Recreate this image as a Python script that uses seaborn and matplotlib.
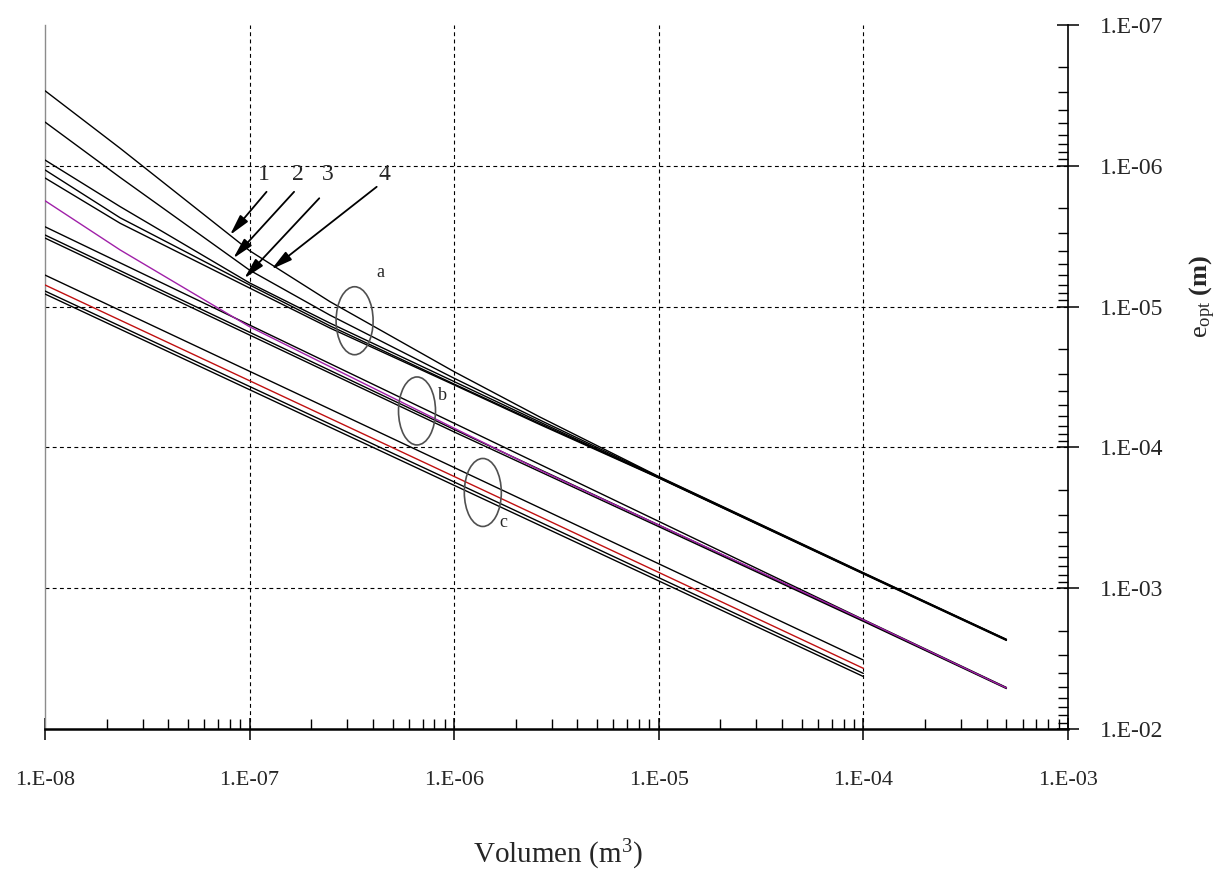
import numpy as np
import pandas as pd
import matplotlib
matplotlib.use("Agg")
import matplotlib.pyplot as plt
from matplotlib.patches import Ellipse
from matplotlib.ticker import FixedLocator, LogLocator, FuncFormatter, NullFormatter
import seaborn as sns

# ---- data: optimum thickness e_opt (m) versus volume (m^3) ----
volume_curved = [1e-8, 2.33e-8, 1e-7, 2.47e-7, 1e-6, 2.62e-6, 1e-5, 1e-4, 5e-4]
volume_straight = [1e-8, 1e-6, 1e-4, 5e-4]
volume_short = [1e-8, 1e-6, 1e-4]

# group a (curves 1-4 and companion)
e_a1 = [2.93e-7, 7.51e-7, 4.01e-6, 9.22e-6, 2.90e-5, 6.08e-5, 1.61e-4, 7.76e-4, 2.31e-3]
e_a2 = [4.89e-7, 1.21e-6, 5.51e-6, 1.15e-5, 3.23e-5, 6.39e-5, 1.62e-4, 7.80e-4, 2.31e-3]
e_a3 = [9.10e-7, 1.95e-6, 6.79e-6, 1.31e-5, 3.41e-5, 6.60e-5, 1.64e-4, 7.86e-4, 2.33e-3]
e_a4 = [1.07e-6, 2.34e-6, 7.02e-6, 1.37e-5, 3.55e-5, 6.77e-5, 1.64e-4, 7.86e-4, 2.33e-3]
e_a5 = [1.22e-6, 2.56e-6, 7.38e-6, 1.42e-5, 3.60e-5, 6.88e-5, 1.65e-4, 7.92e-4, 2.35e-3]
# group b
e_b1 = [2.71e-6, 6.74e-5, 1.67e-3, 5.07e-3]
e_b2 = [1.77e-6, 3.96e-6, 1.39e-5, 2.67e-5, 7.31e-5, 1.45e-4, 3.56e-4, 1.68e-3, 5.11e-3]
e_b3 = [3.10e-6, 7.46e-5, 1.70e-3, 5.11e-3]
e_b4 = [3.26e-6, 7.77e-5, 1.72e-3, 5.16e-3]
# group c
e_c1 = [5.97e-6, 1.39e-4, 3.24e-3]
e_c2 = [7.02e-6, 1.61e-4, 3.71e-3]
e_c3 = [7.75e-6, 1.76e-4, 4.03e-3]
e_c4 = [8.14e-6, 1.86e-4, 4.24e-3]

x_ticks = [1e-8, 1e-7, 1e-6, 1e-5, 1e-4, 1e-3]
y_ticks = [1e-7, 1e-6, 1e-5, 1e-4, 1e-3, 1e-2]

curve_colors = {
    "a1": "black", "a2": "black", "a3": "black", "a4": "black", "a5": "black",
    "b1": "black", "b3": "black", "b4": "black",
    "c1": "black", "c3": "black", "c4": "black",
    "b2": "#a020a8", "c2": "#c01010",
}

series = [
    ("a1", volume_curved, e_a1), ("a2", volume_curved, e_a2), ("a3", volume_curved, e_a3),
    ("a4", volume_curved, e_a4), ("a5", volume_curved, e_a5),
    ("b1", volume_straight, e_b1), ("b3", volume_straight, e_b3), ("b4", volume_straight, e_b4),
    ("c1", volume_short, e_c1), ("c3", volume_short, e_c3), ("c4", volume_short, e_c4),
    ("b2", volume_curved, e_b2), ("c2", volume_short, e_c2),
]
df = pd.concat(
    [pd.DataFrame({"V": v, "e": e, "curve": name}) for name, v, e in series],
    ignore_index=True,
)

# ---- style ----
sns.set_style("white")
plt.rcParams["font.family"] = ["Liberation Serif", "DejaVu Serif"]
plt.rcParams["mathtext.fontset"] = "custom"
plt.rcParams["mathtext.rm"] = "Liberation Serif"
plt.rcParams["mathtext.it"] = "Liberation Serif:italic"
plt.rcParams["mathtext.bf"] = "Liberation Serif:bold"

fig = plt.figure(figsize=(12.22, 8.77), dpi=100)
ax = fig.add_axes([45 / 1222, 1 - 729 / 877, 1023 / 1222, 704 / 877])
ax.set_xscale("log")
ax.set_yscale("log")

# dashed grid at interior decades
for xv in x_ticks[1:-1]:
    ax.axvline(xv, color="black", lw=0.8, ls=(0, (3.5, 3)), zorder=1)
for yv in y_ticks[1:-1]:
    ax.axhline(yv, color="black", lw=0.8, ls=(0, (3.5, 3)), zorder=1)

sns.lineplot(data=df, x="V", y="e", hue="curve", palette=curve_colors,
             hue_order=[s[0] for s in series], estimator=None, sort=False,
             legend=False, linewidth=1.0, ax=ax, zorder=3)

ax.set_xlim(1e-8, 1e-3)
ax.set_ylim(1e-2, 1e-7)

# ---- axes decoration ----
ax.yaxis.tick_right()
ax.yaxis.set_label_position("right")
ax.spines["top"].set_visible(False)
ax.spines["left"].set_color("#8c8c8c")
ax.spines["left"].set_linewidth(1.0)
ax.spines["bottom"].set_color("black")
ax.spines["bottom"].set_linewidth(1.8)
ax.spines["right"].set_color("black")
ax.spines["right"].set_linewidth(1.2)

def dec_label(val, pos=None):
    exp = int(round(np.log10(val)))
    sign = "-" if exp < 0 else ""
    return f"1.E{sign}{abs(exp):02d}"

ax.xaxis.set_major_locator(FixedLocator(x_ticks))
ax.xaxis.set_minor_locator(LogLocator(base=10, subs=np.arange(2, 10)))
ax.xaxis.set_major_formatter(FuncFormatter(dec_label))
ax.xaxis.set_minor_formatter(NullFormatter())
ax.yaxis.set_major_locator(FixedLocator(y_ticks))
ax.yaxis.set_minor_locator(LogLocator(base=10, subs=np.arange(2, 10)))
ax.yaxis.set_major_formatter(FuncFormatter(dec_label))
ax.yaxis.set_minor_formatter(NullFormatter())

ax.tick_params(axis="x", which="major", direction="inout", length=16, width=1.1,
               color="black", labelsize=16, pad=22, bottom=True, top=False)
ax.tick_params(axis="x", which="minor", direction="in", length=7, width=1.0,
               color="black", bottom=True, top=False)
ax.tick_params(axis="y", which="major", direction="inout", length=16, width=1.1,
               color="black", labelsize=17, pad=15, right=True, left=False)
ax.tick_params(axis="y", which="minor", direction="in", length=7, width=1.0,
               color="black", right=True, left=False)

ax.set_xlabel(r"Volumen (m$^{3}$)", fontsize=21)
ax.xaxis.label.set_verticalalignment("center")
ax.xaxis.set_label_coords(0.501, -0.179)
ax.set_ylabel(r"$\mathrm{e}_{\mathrm{opt}}$ $\mathbf{(m)}$", fontsize=19, rotation=90)
ax.yaxis.label.set_horizontalalignment("center")
ax.yaxis.label.set_verticalalignment("center")
ax.yaxis.set_label_coords(1.132, 0.614)

# ---- annotations: curve numbers with arrows ----
number_labels = ["1", "2", "3", "4"]
number_pos_V = [1.18e-7, 1.72e-7, 2.41e-7, 4.55e-7]
number_pos_e = 1.16e-6
arrow_tail = [(1.21e-7, 1.53e-6), (1.65e-7, 1.53e-6), (2.19e-7, 1.70e-6), (4.18e-7, 1.41e-6)]
arrow_tip = [(8.02e-8, 3.10e-6), (8.32e-8, 4.54e-6), (9.42e-8, 6.30e-6), (1.28e-7, 5.43e-6)]

for lab, xv in zip(number_labels, number_pos_V):
    ax.text(xv, number_pos_e, lab, fontsize=17, ha="center", va="center", zorder=5)
for tail, tip in zip(arrow_tail, arrow_tip):
    ax.annotate("", xy=tip, xytext=tail,
                arrowprops=dict(arrowstyle="-|>,head_length=0.9,head_width=0.22",
                                color="black", lw=1.3, mutation_scale=14,
                                shrinkA=0, shrinkB=0),
                zorder=5)

# ---- group ellipses and letters ----
group_names = ["a", "b", "c"]
group_center = [(3.26e-7, 1.26e-5), (6.58e-7, 5.51e-5), (1.38e-6, 2.09e-4)]
group_label = [(4.34e-7, 5.68e-6), (8.81e-7, 4.25e-5), (1.73e-6, 3.44e-4)]
to_axes = ax.transData + ax.transAxes.inverted()
for name, cen, lpos in zip(group_names, group_center, group_label):
    cx, cy = to_axes.transform(cen)
    ax.add_patch(Ellipse((cx, cy), width=37 / 1023, height=68 / 704,
                         transform=ax.transAxes, fill=False,
                         edgecolor="#505050", lw=1.2, zorder=6))
    ax.text(lpos[0], lpos[1], name, fontsize=13, ha="center", va="center", zorder=6)

fig.savefig("out.png", dpi=100)
